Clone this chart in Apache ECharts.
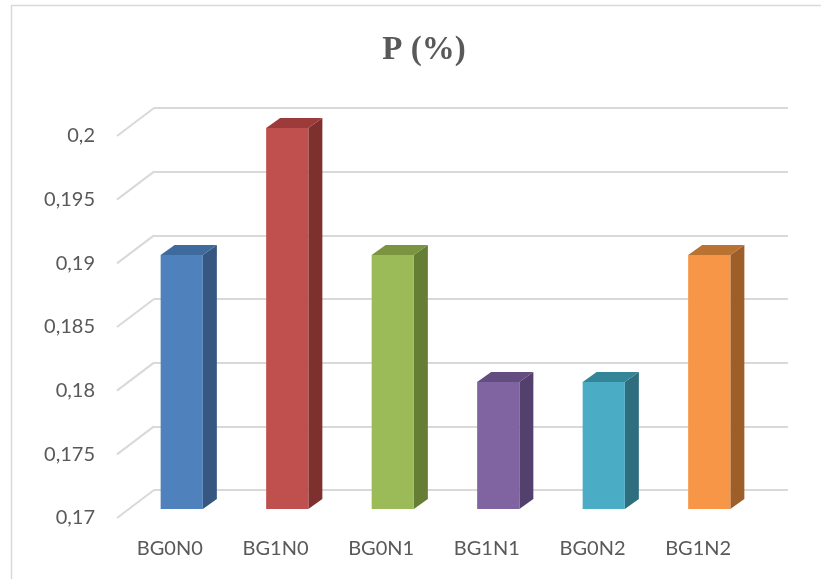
<!DOCTYPE html>
<html>
<head>
<meta charset="utf-8">
<title>P (%)</title>
<script src="https://cdn.jsdelivr.net/npm/echarts@6/dist/echarts.min.js"></script>
<style>
  html, body { margin: 0; padding: 0; background: #ffffff; }
  #chart { width: 821px; height: 579px; }
</style>
</head>
<body>
<div id="chart"></div>
<script>
// Treatments and measured phosphorus content
const categories = ['BG0N0', 'BG1N0', 'BG0N1', 'BG1N1', 'BG0N2', 'BG1N2'];
const values = [0.19, 0.2, 0.19, 0.18, 0.18, 0.19];
const yMin = 0.17;
const yMax = 0.2;
const yStep = 0.005;

// Face colours for each bar: front, top, side
const palette = [
  ['#4F81BD', '#3F6A9E', '#36577F'],
  ['#C0504D', '#9C3B39', '#7E302E'],
  ['#9BBB59', '#7A9440', '#667D36'],
  ['#8064A2', '#624C80', '#53406D'],
  ['#4BACC6', '#358599', '#2F6E7E'],
  ['#F79646', '#BA7233', '#9E5E2A']
];

// Box depth of the bars and of the floor/wall
const barDepth = [14, -10];
const wallDepth = [37, -28];

const gridColor = '#D9D9D9';
const textColor = '#595959';

const fmt = v => (+(+v).toFixed(3)).toString().replace('.', ',');

const chart = echarts.init(document.getElementById('chart'), null, { renderer: 'canvas' });

const tickValues = [];
for (let k = 0; k <= Math.round((yMax - yMin) / yStep); k++) {
  tickValues.push(+(yMin + k * yStep).toFixed(3));
}

chart.setOption({
  animation: false,
  backgroundColor: '#ffffff',
  graphic: [{
    type: 'rect',
    silent: true,
    z: -10,
    shape: { x: 11.5, y: 5.5, width: 900, height: 700 },
    style: { fill: 'none', stroke: '#D9D9D9', lineWidth: 1.5 }
  }],
  title: {
    text: 'P (%)',
    left: 419,
    top: 29,
    textAlign: 'center',
    textStyle: {
      fontFamily: 'Liberation Serif',
      fontWeight: 'bold',
      fontSize: 33,
      color: textColor
    }
  },
  grid: [
    // bar plane
    { left: 129, top: 128, width: 633, height: 381 },
    // back wall
    { left: 154, top: 108, width: 634, height: 382 },
    // front edge (labels)
    { left: 117, top: 136, width: 634, height: 382 }
  ],
  xAxis: [
    { gridIndex: 0, type: 'category', data: categories, show: false },
    { gridIndex: 1, type: 'category', data: categories, show: false },
    {
      gridIndex: 2, type: 'category', data: categories,
      axisLine: { show: false }, axisTick: { show: false },
      axisLabel: { margin: 21, fontFamily: 'Lato', fontSize: 20, color: textColor }
    }
  ],
  yAxis: [
    { gridIndex: 0, type: 'value', min: yMin, max: yMax, interval: yStep, show: false },
    {
      gridIndex: 1, type: 'value', min: yMin, max: yMax, interval: yStep,
      axisLine: { show: false }, axisTick: { show: false }, axisLabel: { show: false },
      splitLine: { show: true, lineStyle: { color: gridColor, width: 2 } }
    },
    {
      gridIndex: 2, type: 'value', min: yMin, max: yMax, interval: yStep,
      axisLine: { show: false }, axisTick: { show: false },
      splitLine: { show: false },
      axisLabel: { margin: 22, fontFamily: 'Lato', fontSize: 20, color: textColor, formatter: fmt }
    }
  ],
  series: [
    {
      // side wall: slanted lines joining the front edge to the back wall
      type: 'custom',
      xAxisIndex: 2,
      yAxisIndex: 2,
      silent: true,
      z: 1,
      data: tickValues.map(v => [0, v]),
      renderItem: function (params, api) {
        const p = api.coord([0, api.value(1)]);
        const x0 = params.coordSys.x;
        return {
          type: 'line',
          shape: { x1: x0, y1: p[1], x2: x0 + wallDepth[0], y2: p[1] + wallDepth[1] },
          style: { stroke: gridColor, lineWidth: 2 }
        };
      }
    },
    {
      type: 'custom',
      xAxisIndex: 0,
      yAxisIndex: 0,
      z: 5,
      data: values.map((v, i) => [i, v]),
      renderItem: function (params, api) {
        const i = api.value(0);
        const top = api.coord([i, api.value(1)]);
        const base = api.coord([i, yMin]);
        const w = api.size([1, 0])[0] * 0.4;
        const x1 = top[0] - w / 2;
        const x2 = top[0] + w / 2;
        const dx = barDepth[0], dy = barDepth[1];
        const c = palette[i % palette.length];
        return {
          type: 'group',
          children: [
            {
              type: 'polygon',
              shape: { points: [[x2, top[1]], [x2 + dx, top[1] + dy], [x2 + dx, base[1] + dy], [x2, base[1]]] },
              style: { fill: c[2] }
            },
            {
              type: 'polygon',
              shape: { points: [[x1, top[1]], [x1 + dx, top[1] + dy], [x2 + dx, top[1] + dy], [x2, top[1]]] },
              style: { fill: c[1] }
            },
            {
              type: 'rect',
              shape: { x: x1, y: top[1], width: w, height: base[1] - top[1] },
              style: { fill: c[0] }
            }
          ]
        };
      }
    }
  ]
});
</script>
</body>
</html>
